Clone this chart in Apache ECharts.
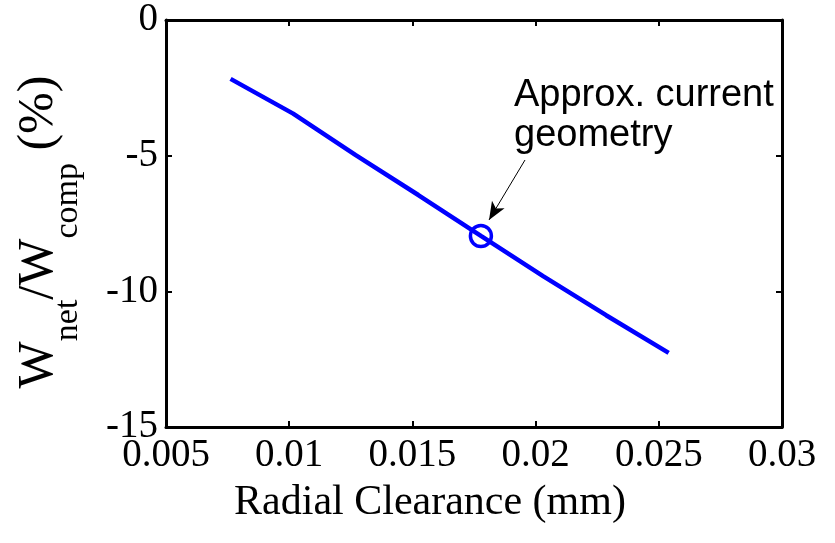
<!DOCTYPE html>
<html>
<head>
<meta charset="utf-8">
<script src="https://cdn.jsdelivr.net/npm/echarts@6/dist/echarts.min.js"></script>
<style>
  html, body { margin: 0; padding: 0; background: #fff; }
  #chart { width: 835px; height: 543px; }
</style>
</head>
<body>
<div id="chart"></div>
<script>
// Radial clearance (mm) and the resulting net/compressor work ratio (%)
const clearanceMm = [0.00762, 0.01016, 0.0127, 0.01524, 0.01778, 0.02032, 0.02286, 0.0254];
const netWorkPct = [-2.17, -3.45, -4.98, -6.45, -7.96, -9.45, -10.88, -12.27];

// Highlighted design point
const currentIndex = 4;
const currentLabel = 'Approx. current\ngeometry';

// Axis ticks
const xTickLabels = ['0.005', '0.01', '0.015', '0.02', '0.025', '0.03'];
const yTickLabels = ['-15', '-10', '-5', '0'];
const xMin = 0.005, xMax = 0.03, xStep = 0.005;
const yMin = -15, yMax = 0, yStep = 5;

// Arrow from the note to the highlighted point (data coordinates)
const arrowFrom = [0.01957, -5.16];
const arrowTo = [0.01811, -7.37];

const serif = '"Liberation Serif", "Times New Roman", serif';
const sans = '"Liberation Sans", Arial, sans-serif';

const xFmt = v => xTickLabels[Math.round((v - xMin) / xStep)] || '';
const yFmt = v => yTickLabels[Math.round((v - yMin) / yStep)] || '';

const lineData = clearanceMm.map((x, i) => [x, netWorkPct[i]]);

const frameLine = { show: true, onZero: false, lineStyle: { color: '#000', width: 3 } };
const tickIn = { show: true, inside: true, length: 6, lineStyle: { color: '#000', width: 2 } };

const chart = echarts.init(document.getElementById('chart'), null, { renderer: 'canvas' });
chart.setOption({
  animation: false,
  backgroundColor: '#fff',
  grid: { left: 166, right: 53, top: 20, bottom: 116, containLabel: false },
  xAxis: [
    {
      type: 'value', position: 'bottom', min: xMin, max: xMax, interval: xStep,
      axisLine: frameLine, axisTick: tickIn, splitLine: { show: false },
      axisLabel: { formatter: xFmt, fontFamily: serif, fontSize: 39, color: '#000', margin: 9 }
    },
    {
      type: 'value', position: 'top', min: xMin, max: xMax, interval: xStep,
      axisLine: frameLine, axisTick: tickIn, splitLine: { show: false },
      axisLabel: { show: false }
    }
  ],
  yAxis: [
    {
      type: 'value', position: 'left', min: yMin, max: yMax, interval: yStep,
      axisLine: frameLine, axisTick: tickIn, splitLine: { show: false },
      axisLabel: { formatter: yFmt, fontFamily: serif, fontSize: 39, color: '#000', margin: 8 }
    },
    {
      type: 'value', position: 'right', min: yMin, max: yMax, interval: yStep,
      axisLine: frameLine, axisTick: tickIn, splitLine: { show: false },
      axisLabel: { show: false }
    }
  ],
  series: [
    {
      type: 'line', xAxisIndex: 0, yAxisIndex: 0, data: lineData,
      showSymbol: false, symbol: 'none',
      lineStyle: { color: '#0000ff', width: 4.5 }
    },
    {
      type: 'scatter', xAxisIndex: 0, yAxisIndex: 0,
      data: [lineData[currentIndex]],
      symbol: 'circle', symbolSize: 21,
      itemStyle: { color: 'rgba(0,0,0,0)', borderColor: '#0000ff', borderWidth: 3.5, opacity: 1 },
      silent: true,
      markLine: {
        silent: true, animation: false,
        symbol: ['none', 'arrow'], symbolSize: 16,
        label: { show: false },
        lineStyle: { color: '#000', width: 1, type: 'solid' },
        data: [[
          { coord: arrowFrom, symbol: 'none' },
          { coord: arrowTo, symbol: 'arrow', symbolSize: [11, 18] }
        ]]
      }
    }
  ],
  graphic: [
    {
      type: 'text', left: 514, top: 76,
      style: { text: currentLabel, font: '38px ' + sans, fill: '#000', lineHeight: 40 }
    },
    {
      type: 'text', x: 430, y: 503,
      style: { text: 'Radial Clearance (mm)', font: '42px ' + serif, fill: '#000', align: 'center', verticalAlign: 'middle' }
    },
    {
      type: 'text', x: 39, y: 232, rotation: Math.PI / 2,
      style: {
        text: '{m|W}{s|net}{m|/W}{s|comp}{m| (%)}',
        align: 'center', verticalAlign: 'middle', fill: '#000',
        rich: {
          m: { fontFamily: serif, fontSize: 50, lineHeight: 56 },
          s: { fontFamily: serif, fontSize: 34, lineHeight: 40, padding: [58, 0, 0, 0] }
        }
      }
    }
  ]
});
</script>
</body>
</html>
